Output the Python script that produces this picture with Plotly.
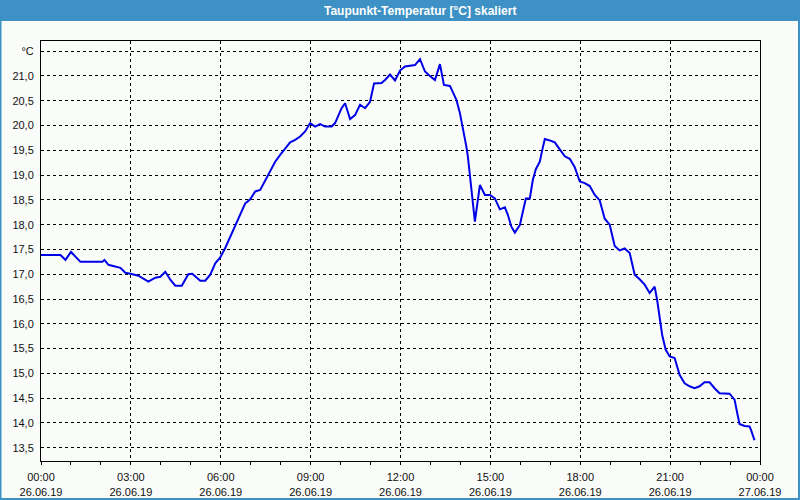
import pandas as pd
import plotly.graph_objects as go

# minutes after 26.06.19 00:00
minutes = [0, 39, 49, 60, 79, 123, 127, 135, 159, 169, 179, 195, 215, 229, 239, 249, 259, 269, 282, 295,
           303, 312, 319, 329, 339, 349, 359, 369, 379, 389, 399, 409, 419, 429, 439, 449, 459, 469, 479, 489,
           499, 509, 519, 529, 539, 549, 559, 569, 582, 589, 595, 602, 609, 619, 629, 639, 649, 659, 667, 682,
           689, 699, 709, 719, 729, 749, 759, 769, 779, 789, 799, 807, 819, 825, 832, 839, 845, 852, 855, 860,
           864, 869, 873, 879, 889, 899, 909, 919, 929, 935, 942, 949, 959, 965, 971, 979, 985, 991, 999, 1004,
           1009, 1019, 1029, 1039, 1049, 1059, 1069, 1079, 1089, 1099, 1109, 1119, 1129, 1139, 1149, 1159, 1169, 1179, 1189, 1199,
           1209, 1219, 1229, 1234, 1239, 1244, 1251, 1259, 1269, 1279, 1289, 1299, 1309, 1319, 1329, 1339, 1349, 1359, 1379, 1389,
           1395, 1399, 1409, 1419, 1422, 1429]
taupunkt = [17.39, 17.39, 17.29, 17.45, 17.25, 17.25, 17.29, 17.19, 17.13, 17.03, 17.01, 16.97, 16.85, 16.93, 16.95, 17.05, 16.89, 16.77, 16.77, 17.00,
            17.01, 16.93, 16.87, 16.87, 16.99, 17.22, 17.34, 17.53, 17.75, 18.00, 18.20, 18.43, 18.51, 18.67, 18.70, 18.90, 19.10, 19.27, 19.41, 19.54,
            19.66, 19.71, 19.78, 19.88, 20.05, 19.98, 20.03, 19.98, 19.98, 20.05, 20.18, 20.35, 20.45, 20.13, 20.21, 20.42, 20.35, 20.48, 20.85, 20.86,
            20.92, 21.03, 20.91, 21.11, 21.19, 21.22, 21.34, 21.09, 21.00, 20.92, 21.24, 20.82, 20.80, 20.68, 20.52, 20.25, 19.95, 19.57, 19.37, 18.90,
            18.47, 18.06, 18.36, 18.80, 18.60, 18.60, 18.53, 18.31, 18.35, 18.20, 17.96, 17.84, 17.99, 18.23, 18.53, 18.53, 18.90, 19.12, 19.27, 19.51,
            19.73, 19.70, 19.66, 19.52, 19.38, 19.33, 19.16, 18.87, 18.84, 18.78, 18.60, 18.49, 18.12, 18.00, 17.57, 17.48, 17.52, 17.43, 16.99, 16.90,
            16.79, 16.62, 16.75, 16.48, 16.08, 15.78, 15.48, 15.34, 15.31, 14.97, 14.80, 14.74, 14.70, 14.74, 14.82, 14.82, 14.70, 14.60, 14.59, 14.47,
            14.17, 13.98, 13.94, 13.93, 13.86, 13.65]

y_ticks = [13.5, 14.0, 14.5, 15.0, 15.5, 16.0, 16.5, 17.0, 17.5, 18.0, 18.5, 19.0, 19.5, 20.0, 20.5, 21.0, 21.5]
y_ticklabels = ["13,5", "14,0", "14,5", "15,0", "15,5", "16,0", "16,5", "17,0", "17,5", "18,0", "18,5",
                "19,0", "19,5", "20,0", "20,5", "21,0", "°C"]
x_ticks = ["2019-06-26 00:00", "2019-06-26 03:00", "2019-06-26 06:00", "2019-06-26 09:00", "2019-06-26 12:00",
           "2019-06-26 15:00", "2019-06-26 18:00", "2019-06-26 21:00", "2019-06-27 00:00"]
x_ticklabels = ["00:00<br>26.06.19", "03:00<br>26.06.19", "06:00<br>26.06.19", "09:00<br>26.06.19",
                "12:00<br>26.06.19", "15:00<br>26.06.19", "18:00<br>26.06.19", "21:00<br>26.06.19",
                "00:00<br>27.06.19"]
title = "Taupunkt-Temperatur [°C] skaliert"

start = pd.Timestamp("2019-06-26 00:00")
times = [start + pd.Timedelta(minutes=m) for m in minutes]
hourly = [start + pd.Timedelta(hours=h) for h in range(25)]

W, H = 800, 500
ml, mr, mt, mb = 41, 40, 41, 39
pw, ph = W - ml - mr, H - mt - mb
bg = "#fafcfa"
font = "Liberation Sans, Arial, sans-serif"

fig = go.Figure()
fig.add_trace(go.Scatter(x=times, y=taupunkt, mode="lines",
                         line=dict(color="#0000e6", width=2), hoverinfo="skip"))

def px_x(p):
    return (p - ml) / pw

def px_y(p):
    return 1 - (p - mt) / ph

fig.update_layout(
    width=W, height=H,
    margin=dict(l=ml, r=mr, t=mt, b=mb, autoexpand=False),
    paper_bgcolor=bg, plot_bgcolor=bg,
    showlegend=False,
    font=dict(family=font, size=11, color="#111111"),
    xaxis=dict(
        type="date", automargin=False,
        range=["2019-06-26 00:00", "2019-06-27 00:00"],
        tickmode="array", tickvals=x_ticks, ticktext=x_ticklabels,
        ticks="outside", ticklen=3, tickcolor="black", tickwidth=1,
        minor=dict(tickmode="array", tickvals=hourly, ticks="outside", ticklen=3,
                   tickcolor="black", tickwidth=1, showgrid=False),
        showgrid=True, gridcolor="black", gridwidth=1, griddash="3px,3px",
        showline=True, linecolor="black", linewidth=1, mirror=True,
        zeroline=False, tickangle=0, ticklabelstandoff=3,
        tickfont=dict(family=font, size=11, color="#111111"),
    ),
    yaxis=dict(
        automargin=False,
        range=[13.232, 21.706],
        tickmode="array", tickvals=y_ticks, ticktext=y_ticklabels,
        ticks="", showgrid=True, gridcolor="black", gridwidth=1, griddash="3px,3px",
        showline=True, linecolor="black", linewidth=1, mirror=True,
        zeroline=False, ticklabelstandoff=4,
        tickfont=dict(family=font, size=11, color="#111111"),
    ),
    shapes=[
        # title bar
        dict(type="rect", xref="paper", yref="paper",
             x0=px_x(0), x1=px_x(W), y0=px_y(21), y1=px_y(0),
             fillcolor="#3d91c4", line=dict(width=0), layer="above"),
        # window border
        dict(type="rect", xref="paper", yref="paper",
             x0=px_x(0.5), x1=px_x(W - 1), y0=px_y(H - 1), y1=px_y(0),
             fillcolor="rgba(0,0,0,0)", line=dict(color="#3d91c4", width=2), layer="above"),
    ],
    annotations=[
        dict(text="<b>" + title + "</b>", xref="paper", yref="paper",
             x=px_x(420), y=px_y(11), xanchor="center", yanchor="middle",
             showarrow=False, font=dict(family=font, size=12, color="white")),
    ],
)

fig.write_html("out.html")
